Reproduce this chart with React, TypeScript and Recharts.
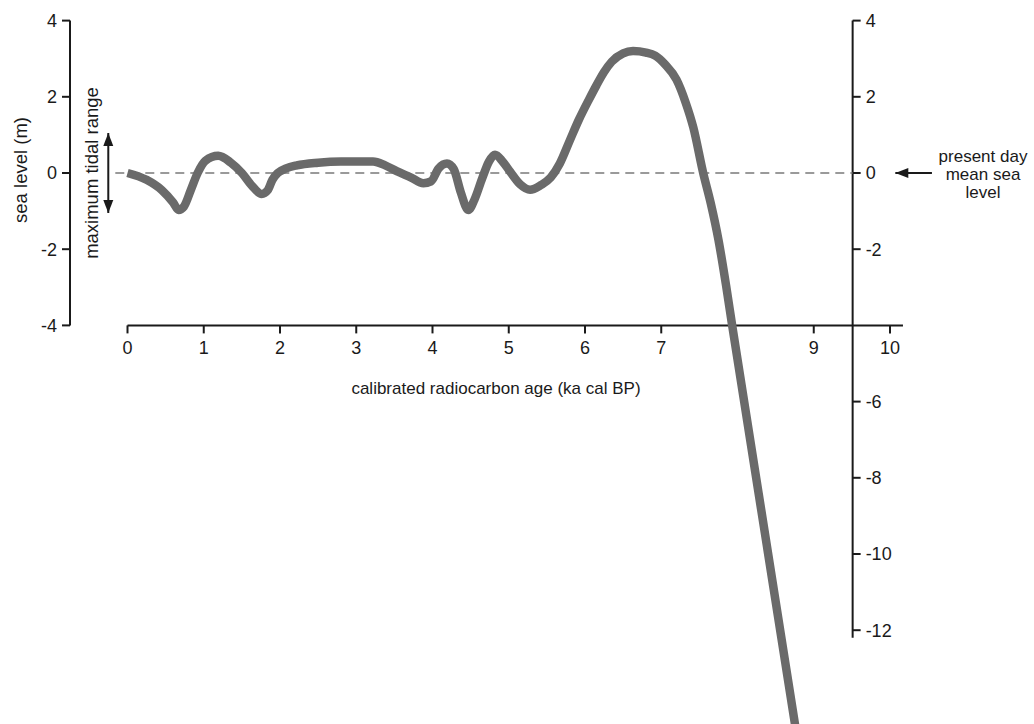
import React from "react";
import { LineChart, Line, XAxis, YAxis, ReferenceLine, ReferenceDot } from "recharts";

const W = 1034;
const H = 724;

// shared pixel mapping so the stacked layers line up
const X0 = 127.5; // px of 0 ka
const SX = 76.25; // px per ka
const Y0 = 173; // px of 0 m
const SY = 38.1; // px per m
const px2x = (p: number) => (p - X0) / SX;
const px2y = (p: number) => (Y0 - p) / SY;

// sea-level curve
const ageKa = [
  0, 0.25, 0.45, 0.6, 0.67, 0.74, 0.83, 0.92, 1.02, 1.19, 1.35, 1.5, 1.63, 1.76, 1.84, 1.9,
  1.97, 2.08, 2.22, 2.5, 2.8, 3.22, 3.38, 3.53, 3.72, 3.88, 3.98, 4.08, 4.19, 4.28, 4.37,
  4.47, 4.55, 4.65, 4.74, 4.82, 4.92, 5.02, 5.15, 5.28, 5.42, 5.55, 5.67, 5.8, 5.92, 6.05,
  6.15, 6.25, 6.35, 6.5, 6.63, 6.8, 6.92, 7.05, 7.2, 7.32, 7.42, 7.55, 7.65, 7.75, 7.85,
  7.93, 8.78,
];
const seaLevelM = [
  0, -0.18, -0.45, -0.78, -0.97, -0.88, -0.45, 0, 0.32, 0.45, 0.28, 0, -0.33, -0.55, -0.45,
  -0.18, 0.0, 0.12, 0.2, 0.27, 0.3, 0.3, 0.2, 0.05, -0.12, -0.27, -0.22, 0.12, 0.25, 0.1,
  -0.5, -0.97, -0.7, -0.15, 0.3, 0.48, 0.3, 0.03, -0.3, -0.44, -0.32, -0.12, 0.25, 0.85, 1.4,
  1.92, 2.3, 2.65, 2.92, 3.14, 3.2, 3.16, 3.08, 2.85, 2.45, 1.85, 1.2, 0, -0.8, -1.75, -2.95,
  -4, -14.8,
];
const data = ageKa.map((age, i) => ({ age, level: seaLevelM[i] }));

const leftTicks = [4, 2, 0, -2, -4];
const rightTicks = [4, 2, 0, -2, -6, -8, -10, -12];
const ageTicks = [0, 1, 2, 3, 4, 5, 6, 7, 9, 10];

// axis extents in data units
const leftAxisAge = -0.75;
const rightAxisAge = 9.51;
const xAxisEndAge = 10.17;
const rightAxisBottom = -12.2;
const dashStartAge = -0.16;

const tidalRange = [-1.05, 1.05];
const tidalArrowAge = -0.252;
const presentArrow = [10.55, 10.07];

const presentNote = ["present day", "mean sea", "level"];
const presentNoteY = [0.45, -0.03, -0.51];
const presentNoteAge = 11.22;

const FONT = '"Liberation Sans", Arial, sans-serif';
const INK = "#1a1a1a";
const axisStyle = { stroke: INK, strokeWidth: 2 };
const tickStyle = { fill: INK, fontSize: 18, fontFamily: FONT };

const arrowShape = (both: boolean) => (p: any) => {
  const { x1, y1, x2, y2 } = p;
  const head = (tx: number, ty: number, fx: number, fy: number) => {
    const len = Math.hypot(tx - fx, ty - fy) || 1;
    const ux = (tx - fx) / len;
    const uy = (ty - fy) / len;
    const bx = tx - ux * 13;
    const by = ty - uy * 13;
    return `${tx},${ty} ${bx - uy * 5},${by + ux * 5} ${bx + uy * 5},${by - ux * 5}`;
  };
  return (
    <g>
      <line x1={x1} y1={y1} x2={x2} y2={y2} stroke={INK} strokeWidth={2} />
      <polygon points={head(x2, y2, x1, y1)} fill={INK} />
      {both && <polygon points={head(x1, y1, x2, y2)} fill={INK} />}
    </g>
  );
};

const layer: React.CSSProperties = { position: "absolute", left: 0, top: 0 };

const note = (key: string, x: number, y: number, value: string, size: number, angle = 0) => (
  <ReferenceDot
    key={key}
    x={x}
    y={y}
    r={0}
    fill="none"
    stroke="none"
    label={{ value, position: "center", angle, fontSize: size, fontFamily: FONT, fill: INK }}
  />
);

export default function App() {
  return (
    <div style={{ position: "absolute", left: 0, top: 0, width: W, height: H, background: "#fff" }}>
      {/* left axis */}
      <div style={layer}>
        <LineChart
          width={W}
          height={H}
          data={data}
          margin={{ top: Y0 - 4 * SY, bottom: H - (Y0 + 4 * SY), left: 0, right: 0 }}
        >
          <XAxis type="number" dataKey="age" hide domain={[leftAxisAge, rightAxisAge]} allowDataOverflow />
          <YAxis
            type="number"
            domain={[-4, 4]}
            ticks={leftTicks}
            interval={0}
            allowDataOverflow
            width={70}
            tickSize={8}
            tickMargin={5}
            axisLine={axisStyle}
            tickLine={axisStyle}
            tick={tickStyle}
          />
        </LineChart>
      </div>

      {/* right axis */}
      <div style={layer}>
        <LineChart
          width={W}
          height={H}
          data={data}
          margin={{
            top: Y0 - 4 * SY,
            bottom: H - (Y0 - rightAxisBottom * SY),
            left: X0 + leftAxisAge * SX,
            right: W - (X0 + rightAxisAge * SX) - 60,
          }}
        >
          <XAxis type="number" dataKey="age" hide domain={[leftAxisAge, rightAxisAge]} allowDataOverflow />
          <YAxis
            orientation="right"
            type="number"
            domain={[rightAxisBottom, 4]}
            ticks={rightTicks}
            interval={0}
            allowDataOverflow
            width={60}
            tickSize={8}
            tickMargin={5}
            axisLine={axisStyle}
            tickLine={axisStyle}
            tick={tickStyle}
          />
        </LineChart>
      </div>

      {/* age axis */}
      <div style={layer}>
        <LineChart
          width={W}
          height={H}
          data={data}
          margin={{
            top: 0,
            bottom: H - (Y0 + 4 * SY) - 80,
            left: X0,
            right: W - (X0 + xAxisEndAge * SX),
          }}
        >
          <YAxis type="number" hide domain={[-4, px2y(0)]} allowDataOverflow />
          <XAxis
            type="number"
            dataKey="age"
            domain={[0, xAxisEndAge]}
            ticks={ageTicks}
            interval={0}
            allowDataOverflow
            height={80}
            tickSize={8}
            tickMargin={8}
            axisLine={axisStyle}
            tickLine={axisStyle}
            tick={tickStyle}
          />
        </LineChart>
      </div>

      {/* curve and annotations */}
      <div style={layer}>
        <LineChart width={W} height={H} data={data} margin={{ top: 0, right: 0, bottom: 0, left: 0 }}>
          <XAxis type="number" dataKey="age" hide domain={[px2x(0), px2x(W)]} allowDataOverflow />
          <YAxis type="number" hide domain={[px2y(H), px2y(0)]} allowDataOverflow />
          <ReferenceLine
            segment={[
              { x: dashStartAge, y: 0 },
              { x: rightAxisAge, y: 0 },
            ]}
            stroke="#7a7a7a"
            strokeWidth={1.5}
            strokeDasharray="9 6"
          />
          <ReferenceLine
            segment={[
              { x: tidalArrowAge, y: tidalRange[0] },
              { x: tidalArrowAge, y: tidalRange[1] },
            ]}
            shape={arrowShape(true)}
          />
          <ReferenceLine
            segment={[
              { x: presentArrow[0], y: 0 },
              { x: presentArrow[1], y: 0 },
            ]}
            shape={arrowShape(false)}
          />
          <Line
            type="monotone"
            dataKey="level"
            stroke="#6a6a6a"
            strokeWidth={8.5}
            strokeLinejoin="round"
            dot={false}
            activeDot={false}
            isAnimationActive={false}
          />
          {note("ylabel", px2x(20), px2y(170), "sea level (m)", 18.5, -90)}
          {note("tidal", px2x(91), px2y(173), "maximum tidal range", 18.5, -90)}
          {note("xlabel", px2x(496), px2y(388), "calibrated radiocarbon age (ka cal BP)", 17)}
          {presentNote.map((t, i) => note(`pn${i}`, presentNoteAge, presentNoteY[i], t, 17))}
        </LineChart>
      </div>
    </div>
  );
}
